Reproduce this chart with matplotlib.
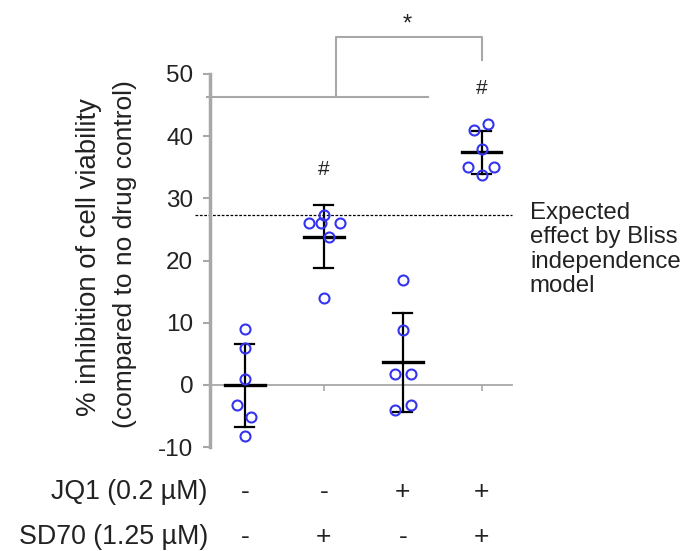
import matplotlib
matplotlib.use("Agg")
import matplotlib.pyplot as plt
import numpy as np

plt.rcParams['font.family'] = ['Liberation Sans', 'DejaVu Sans']
plt.rcParams['axes.unicode_minus'] = False

groups = [1, 2, 3, 4]
vals = [
    [9.0, 6.0, 1.0, -3.2, -5.2, -8.2],
    [27.4, 26.0, 26.0, 26.0, 23.8, 13.9],
    [16.8, 8.8, 1.7, 1.7, -4.1, -3.2],
    [41.0, 42.0, 38.0, 35.0, 35.0, 33.7],
]
# small horizontal offsets of the dots as they sit in the picture
jitter = [
    [0.0, 0.0, 0.0, -0.1, 0.08, 0.0],
    [0.0, -0.19, -0.04, 0.2, 0.07, 0.0],
    [0.0, 0.0, -0.1, 0.1, -0.1, 0.1],
    [-0.1, 0.08, 0.0, -0.17, 0.15, 0.0],
]
jq1 = ['-', '-', '+', '+']
sd70 = ['-', '+', '-', '+']
bliss = 27.3
hash_y = [None, 34.6, None, 47.7]

fig = plt.figure(figsize=(6.86, 5.51), dpi=100)
ax = fig.add_axes([0.306, 0.1887, 0.44, 0.677])

blue = '#3434f0'
gray = '#a8a8a8'
ink = '#222222'

for g, v, j in zip(groups, vals, jitter):
    v = np.array(v)
    m = v.mean()
    sd = v.std(ddof=1)
    ax.plot([g, g], [m - sd, m + sd], color='black', lw=1.6, zorder=3)
    ax.plot([g - 0.12, g + 0.12], [m + sd] * 2, color='black', lw=1.6, zorder=3)
    ax.plot([g - 0.12, g + 0.12], [m - sd] * 2, color='black', lw=1.6, zorder=3)
    ax.plot([g - 0.25, g + 0.25], [m, m], color='black', lw=2.4, zorder=3)
    ax.plot(g + np.array(j), v, 'o', mfc='none', mec=blue, mew=1.5, ms=7.2,
            zorder=4, clip_on=False)

ax.set_xlim(0.557, 4.38)
ax.set_ylim(-10, 50)
ax.set_yticks(range(-10, 51, 10))
ax.set_xticks(groups)
ax.set_xticklabels([])

for s in ['top', 'right']:
    ax.spines[s].set_visible(False)
ax.spines['left'].set_color(gray)
ax.spines['left'].set_linewidth(2.5)
ax.spines['bottom'].set_position(('data', 0))
ax.spines['bottom'].set_color(gray)
ax.spines['bottom'].set_linewidth(1.3)
ax.tick_params(axis='y', colors=gray, length=5, width=1.5, pad=7,
               labelsize=17.5, labelcolor=ink)
ax.tick_params(axis='x', colors=gray, length=4, width=1.2)

# Bliss expected line
ax.plot([0.367, 4.38], [bliss, bliss], color='black', lw=0.9,
        ls=(0, (2.2, 1.3)), clip_on=False, zorder=2)
ax.text(4.61, 29.4, 'Expected\neffect by Bliss\nindependence\nmodel',
        fontsize=17.3, ha='left', va='top', linespacing=1.14, color=ink)

# significance marks
for g, h in zip(groups, hash_y):
    if h is not None:
        ax.text(g, h, '#', fontsize=15, ha='center', va='center', color=ink)
ax.plot([0.52, 3.32], [46.3, 46.3], color=gray, lw=1.5, clip_on=False)
ax.plot([2.148, 2.148, 4.0, 4.0], [46.3, 55.9, 55.9, 52.3], color=gray,
        lw=1.5, clip_on=False)
ax.text(3.05, 58.0, '*', fontsize=17, ha='center', va='center', color=ink)

# treatment table below the axis
ax.text(0.53, -17.2, 'JQ1 (0.2 µM)', fontsize=19.3, ha='right', va='center',
        color=ink)
ax.text(0.53, -24.4, 'SD70 (1.25 µM)', fontsize=19.3, ha='right', va='center',
        color=ink)
for g, a, b in zip(groups, jq1, sd70):
    ax.text(g, -17.2, a, fontsize=19, ha='center', va='center', color=ink)
    ax.text(g, -24.4, b, fontsize=19, ha='center', va='center', color=ink)

fig.text(89 / 686, 1 - 257 / 551, '% inhibition of cell viability',
         rotation=90, ha='center', va='center', fontsize=19.8, color=ink)
fig.text(125 / 686, 1 - 254 / 551, '(compared to no drug control)',
         rotation=90, ha='center', va='center', fontsize=19, color=ink)

fig.savefig('out.png', dpi=100)
